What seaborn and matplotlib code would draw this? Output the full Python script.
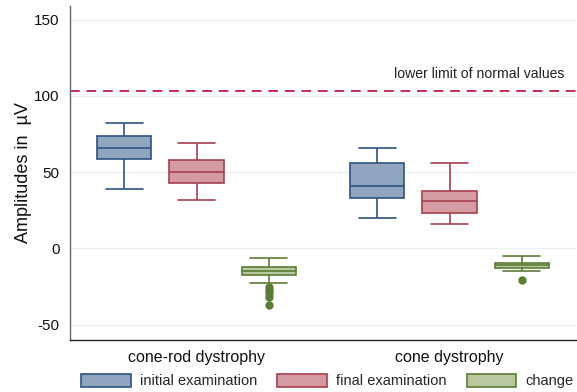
import pandas as pd
import matplotlib
matplotlib.use("Agg")
import matplotlib.pyplot as plt
import matplotlib.transforms as mtransforms
from matplotlib.patches import Patch
import seaborn as sns

groups = ["cone-rod dystrophy", "cone dystrophy"]
exams = ["initial examination", "final examination", "change"]

# amplitudes (µV) per group and examination
crd_initial = [39, 59, 66, 74, 82]
crd_final = [32, 43, 50, 58, 69]
crd_change = [-37, -31.5, -29.5, -27.5, -25.5, -22.5, -17.3, -17, -16.5, -16, -15.5,
              -15, -14.7, -14.5, -14, -13.5, -13, -12.5, -12.3, -11.5, -10.5, -9.5,
              -8.5, -7.5, -6.5]
cd_initial = [20, 33, 41, 56, 66]
cd_final = [16, 23.5, 31, 37.5, 56]
cd_change = [-20.5, -14.5, -13, -12, -10.5, -10, -9.2, -7, -4.6]

normal_limit = 103

fills = {"initial examination": "#91a5bf", "final examination": "#d59ba2", "change": "#b9c89e"}
edges = {"initial examination": "#2d5382", "final examination": "#a8404f", "change": "#5b7d33"}

rows = []
for g, e, vals in [(groups[0], exams[0], crd_initial), (groups[0], exams[1], crd_final),
                   (groups[0], exams[2], crd_change), (groups[1], exams[0], cd_initial),
                   (groups[1], exams[1], cd_final), (groups[1], exams[2], cd_change)]:
    for v in vals:
        rows.append({"group": g, "exam": e, "amp": v})
df = pd.DataFrame(rows)

sns.set_style("white")
plt.rcParams["font.family"] = ["Liberation Sans", "DejaVu Sans"]
plt.rcParams["axes.unicode_minus"] = False

fig = plt.figure(figsize=(5.77, 3.92), dpi=100)
ax = fig.add_axes([70 / 577, 52 / 392, 506 / 577, 334 / 392])

for e in exams:
    sub = df[df["exam"] == e]
    sns.boxplot(data=sub, x="group", y="amp", hue="exam", order=groups, hue_order=exams,
                palette=fills, linecolor=edges[e], linewidth=1.2, width=0.854, gap=0.25,
                dodge=True, capwidths=0.146, legend=False, saturation=1,
                flierprops=dict(marker="o", markersize=5, markerfacecolor=edges[e],
                                markeredgecolor=edges[e]),
                ax=ax)

ax.axhline(normal_limit, color="#c42d52", lw=1.4, ls=(0, (5, 3.5)), zorder=1)
trans = mtransforms.blended_transform_factory(ax.transAxes, ax.transData)
ax.text(0.978, 114.5, "lower limit of normal values", transform=trans,
        ha="right", va="center", fontsize=10.1, color="#222222")

ax.set_ylim(-60, 159)
ax.set_xlim(-0.5, 1.5)
ax.set_yticks([-50, 0, 50, 100, 150])
ax.yaxis.grid(True, color="#e9f0f2", lw=0.9)
ax.set_axisbelow(True)
ax.set_xlabel("")
ax.set_ylabel("Amplitudes in  µV", fontsize=13, color="#111111", labelpad=1.5)

for s in ["top", "right"]:
    ax.spines[s].set_visible(False)
ax.spines["left"].set_color("#666666")
ax.spines["bottom"].set_color("#222222")
ax.spines["left"].set_linewidth(1.0)
ax.spines["bottom"].set_linewidth(1.0)
ax.tick_params(axis="y", length=5.5, color="#666666", labelsize=11, pad=2, labelcolor="#111111")
ax.tick_params(axis="x", length=0, labelsize=11.5, pad=7, labelcolor="#111111")

handles = [Patch(facecolor=fills[e], edgecolor=edges[e], lw=1.2, label=e) for e in exams]
fig.legend(handles=handles, loc="center", bbox_to_anchor=(0.567, 0.028), ncol=3,
           frameon=False, fontsize=10.5, handlelength=3.4, handleheight=1.05,
           handletextpad=0.6, columnspacing=1.4)

fig.savefig("out.png", dpi=100)
